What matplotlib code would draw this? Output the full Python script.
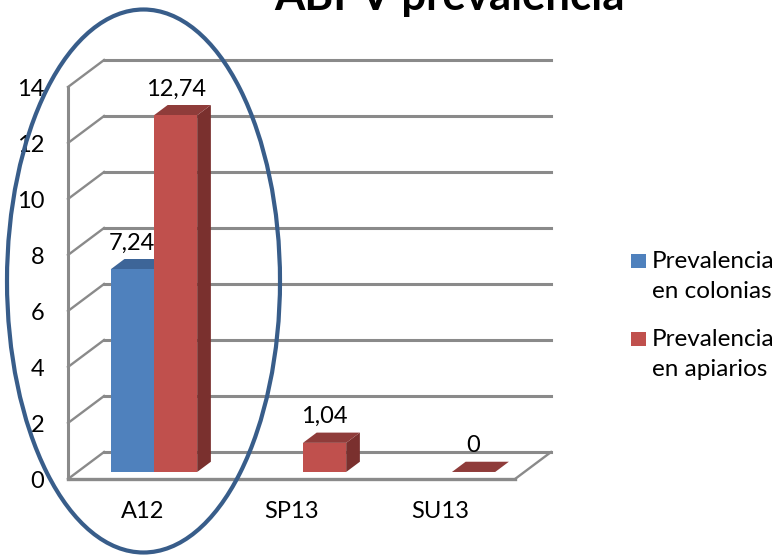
import matplotlib
matplotlib.use("Agg")
import matplotlib.pyplot as plt
import numpy as np
from matplotlib.patches import Polygon, Ellipse, Rectangle

plt.rcParams['font.family'] = ['Lato', 'DejaVu Sans']

# data
categories = ['A12', 'SP13', 'SU13']
colonias = [7.24, np.nan, np.nan]
apiarios = [12.74, 1.04, 0.0]
series_names = ['Prevalencia\nen colonias', 'Prevalencia\nen apiarios']
yticks = [0, 2, 4, 6, 8, 10, 12, 14]

# colours: front, top, side
blue = ('#4f81bd', '#3d6598', '#2f4f78')
red = ('#c0504d', '#8f3c3a', '#7a302e')
grid_col = '#8a8a8a'

# fake 3d depth in data units
DX = 0.242
DY = 0.964
z0, z1 = 0.26, 0.64
bw = 0.29
offsets = [-0.276, 0.014]

fig = plt.figure(figsize=(7.8, 5.56), dpi=100)
ax = fig.add_axes([68/780, (556-479)/556, 447/780, 392/556])
ax.set_xlim(-0.5, 2.5)
ax.set_ylim(0, 14)
for s in ax.spines.values():
    s.set_visible(False)
ax.patch.set_visible(False)

x = np.arange(len(categories))
ax.set_xticks(x)
ax.set_xticklabels(categories, fontsize=17)
ax.set_yticks(yticks)
ax.set_yticklabels([str(t) for t in yticks], fontsize=17)
ax.tick_params(axis='y', length=0, pad=17)
ax.tick_params(axis='x', length=0, pad=16)

# walls and grid
for v in yticks:
    ax.plot([-0.5 + DX, 2.5 + DX], [v + DY, v + DY], color=grid_col, lw=2.2, clip_on=False, zorder=1)
    ax.plot([-0.5, -0.5 + DX], [v, v + DY], color=grid_col, lw=1.7, clip_on=False, zorder=1)
ax.plot([-0.5, -0.5], [0, 14], color=grid_col, lw=2.2, clip_on=False, zorder=1)
ax.plot([-0.5, 2.5], [0, 0], color=grid_col, lw=2.4, clip_on=False, zorder=1)
ax.plot([2.5, 2.5 + DX], [0, DY], color=grid_col, lw=1.7, clip_on=False, zorder=1)


def proj(px, py, pz):
    return (px + pz * DX, py + pz * DY)


def label(v):
    if v == 0:
        return '0'
    return f'{v:.2f}'.replace('.', ',')


z = 3
for vals, cols, off in [(colonias, blue, offsets[0]), (apiarios, red, offsets[1])]:
    for i, v in enumerate(vals):
        if np.isnan(v):
            continue
        x0 = x[i] + off
        x1 = x0 + bw
        side = [proj(x1, 0, z0), proj(x1, v, z0), proj(x1, v, z1), proj(x1, 0, z1)]
        top = [proj(x0, v, z0), proj(x1, v, z0), proj(x1, v, z1), proj(x0, v, z1)]
        ax.add_patch(Polygon(side, closed=True, facecolor=cols[2], edgecolor='none', zorder=z, clip_on=False))
        ax.add_patch(Polygon(top, closed=True, facecolor=cols[1], edgecolor='none', zorder=z, clip_on=False))
        if v > 0:
            ax.bar(x0 + z0 * DX, v, bottom=z0 * DY, width=bw, align='edge',
                   color=cols[0], zorder=z + 0.5, clip_on=False)
        ax.text(x0 + bw / 2 + z0 * DX, v + z0 * DY + 0.93, label(v), ha='center', va='center',
                fontsize=17, zorder=10)
    z += 1

# title (cut at the top edge as in the source image)
fig.text(449/780, 1 - 10/556, 'ABPV prevalencia', ha='center', va='baseline',
         fontsize=31.5, fontweight='bold')

# legend
ov = fig.add_axes([0, 0, 1, 1], zorder=20)
ov.set_xlim(0, 780)
ov.set_ylim(556, 0)
ov.axis('off')
leg_y = [268, 346]
for (name, cols), yb in zip([(series_names[0], blue), (series_names[1], red)], leg_y):
    ov.add_patch(Rectangle((631, yb - 14), 15, 14, facecolor=cols[0], edgecolor='none'))
    lines = name.split('\n')
    ov.text(652, yb, lines[0], ha='left', va='baseline', fontsize=17.5)
    ov.text(652, yb + 30, lines[1], ha='left', va='baseline', fontsize=17.5)

# highlight ellipse round A12
ov.add_patch(Ellipse((143.5, 281), 273, 543, fill=False, edgecolor='#385d8a', lw=3))

fig.savefig('out.png', dpi=100)
